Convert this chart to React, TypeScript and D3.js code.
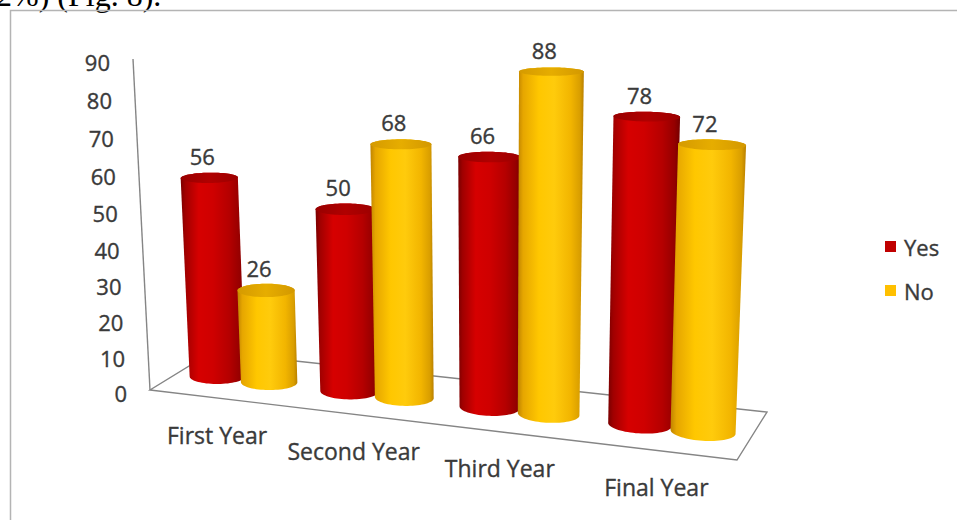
import React from 'react';
import * as d3 from 'd3';

// ---- data ----
const categories = ['First Year', 'Second Year', 'Third Year', 'Final Year'];
const seriesNames = ['Yes', 'No'];
const yesValues = [56, 50, 66, 78];
const noValues = [26, 68, 88, 72];
const yTicks = [0, 10, 20, 30, 40, 50, 60, 70, 80, 90];

const seriesValues: Record<string, number[]> = { Yes: yesValues, No: noValues };

// ---- layout / projection settings ----
const W = 957;
const H = 520;
const floorFL: [number, number] = [150, 390];
const floorFR: [number, number] = [737, 460];
const floorBR: [number, number] = [767, 412];
const floorBL: [number, number] = [212, 352];
const axisTop: [number, number] = [133, 59];
const vanishY = 7080; // vertical vanishing point (below the page)
const depth = 1.1; // floor depth, in category units
const rowDepth = 0.46; // relative depth of the column row on the floor
const FONT = "'Open Sans', 'DejaVu Sans', sans-serif";
const TEXT = '#3a3a3a';

const textStyle = {
  fontFamily: FONT,
  fill: TEXT,
  stroke: TEXT,
  strokeWidth: 0.35,
};

const palette: Record<string, any> = {
  Yes: {
    legend: '#C00000',
    body: [
      [0, '#7a0000'], [0.07, '#a00000'], [0.28, '#d60000'], [0.5, '#cf0000'],
      [0.75, '#b50000'], [0.92, '#950000'], [1, '#740000'],
    ],
    top: [[0, '#980000'], [0.5, '#b00000'], [1, '#9c0000']],
  },
  No: {
    legend: '#FFC000',
    body: [
      [0, '#c08400'], [0.08, '#e6a600'], [0.32, '#ffc700'], [0.55, '#ffcb0c'],
      [0.8, '#f2b500'], [0.94, '#d99e00'], [1, '#b98000'],
    ],
    top: [[0, '#d59a00'], [0.5, '#e6ad00'], [1, '#d39800']],
  },
};

// square -> quad homography
function homography(p0: number[], p1: number[], p2: number[], p3: number[]) {
  const dx1 = p1[0] - p2[0], dx2 = p3[0] - p2[0], dx3 = p0[0] - p1[0] + p2[0] - p3[0];
  const dy1 = p1[1] - p2[1], dy2 = p3[1] - p2[1], dy3 = p0[1] - p1[1] + p2[1] - p3[1];
  const den = dx1 * dy2 - dx2 * dy1;
  const g = (dx3 * dy2 - dx2 * dy3) / den;
  const h = (dx1 * dy3 - dx3 * dy1) / den;
  return {
    a: p1[0] - p0[0] + g * p1[0], b: p3[0] - p0[0] + h * p3[0], c: p0[0],
    d: p1[1] - p0[1] + g * p1[1], e: p3[1] - p0[1] + h * p3[1], f: p0[1],
    g, h,
  };
}

const Hm = homography(floorFL, floorFR, floorBR, floorBL);
const yScale = d3.scaleLinear().domain([0, 90]).range([0, 1]);
const lam = (axisTop[1] - Hm.f) / (vanishY - axisTop[1]);
const vanishX = (axisTop[0] * (1 + lam) - Hm.c) / lam;

const xCat = d3.scaleBand<string>().domain(categories).range([0, 4]).paddingInner(0.2).paddingOuter(0.1);
const xSeries = d3.scaleBand<string>().domain(seriesNames).range([0, xCat.bandwidth()]);

function project(X: number, value: number, Z: number): [number, number] {
  const u = X / 4;
  const v = Z / depth;
  const y = yScale(value);
  const w = Hm.g * u + Hm.h * v + 1 + y * lam;
  return [
    (Hm.a * u + Hm.b * v + Hm.c + y * lam * vanishX) / w,
    (Hm.d * u + Hm.e * v + Hm.f + y * lam * vanishY) / w,
  ];
}

function ring(cx: number, cz: number, r: number, value: number) {
  return d3.range(72).map((i) => {
    const t = (2 * Math.PI * i) / 72;
    return project(cx + r * Math.cos(t), value, cz + r * Math.sin(t));
  });
}

const line = d3.line();

export default function App() {
  const r = xSeries.bandwidth() / 2;
  const cz = depth * rowDepth;

  const bars = categories.flatMap((cat, ci) =>
    seriesNames.map((s) => {
      const value = seriesValues[s][ci];
      const cx = (xCat(cat) as number) + (xSeries(s) as number) + r;
      const base = ring(cx, cz, r, 0);
      const top = ring(cx, cz, r, value);
      const body = d3.polygonHull([...base, ...top] as [number, number][]) as [number, number][];
      const topCenter = project(cx, value, cz);
      return { key: `${ci}-${s}`, s, value, body, top, topCenter };
    })
  );

  const floor = [project(0, 0, 0), project(4, 0, 0), project(4, 0, depth), project(0, 0, depth)];
  const axis0 = project(0, 0, 0);
  const axis1 = project(0, 90, 0);

  return (
    <svg
      width={W}
      height={H}
      viewBox={`0 0 ${W} ${H}`}
      style={{ position: 'absolute', left: 0, top: 0, background: '#fff' }}
    >
      <defs>
        {seriesNames.map((s) => (
          <React.Fragment key={s}>
            <linearGradient id={`body-${s}`} x1="0" x2="1" y1="0" y2="0">
              {palette[s].body.map(([o, c]: [number, string]) => (
                <stop key={o} offset={o} stopColor={c} />
              ))}
            </linearGradient>
            <linearGradient id={`top-${s}`} x1="0" x2="1" y1="0" y2="0">
              {palette[s].top.map(([o, c]: [number, string]) => (
                <stop key={o} offset={o} stopColor={c} />
              ))}
            </linearGradient>
          </React.Fragment>
        ))}
      </defs>

      {/* running text above the figure */}
      <text x={-4} y={6} fontFamily="'Liberation Serif', 'Times New Roman', serif" fontSize={32} fill="#000">
        2%) (Fig. 8).
      </text>

      {/* figure frame */}
      <rect x={10.5} y={10.5} width={960} height={540} fill="none" stroke="#b4b4b4" strokeWidth={1.5} />

      {/* floor */}
      <path d={line(floor as [number, number][]) + 'Z'} fill="none" stroke="#858585" strokeWidth={1.4} />
      {/* value axis */}
      <line x1={axis0[0]} y1={axis0[1]} x2={axis1[0]} y2={axis1[1]} stroke="#858585" strokeWidth={1.4} />

      {yTicks.map((t) => {
        const p = project(0, t, 0);
        return (
          <text key={t} x={p[0] - 23} y={p[1] + 3} textAnchor="end" dominantBaseline="central"
            fontSize={22} {...textStyle}>
            {t}
          </text>
        );
      })}

      {categories.map((c) => {
        const p = project((xCat(c) as number) + xCat.bandwidth() / 2, 0, 0);
        return (
          <text key={c} x={p[0] + 2} y={p[1] + 37} textAnchor="middle" dominantBaseline="central"
            fontSize={23} {...textStyle}>
            {c}
          </text>
        );
      })}

      {bars.map((b) => (
        <g key={b.key}>
          <path d={line(b.body) + 'Z'} fill={`url(#body-${b.s})`} />
          <path d={line(b.top as [number, number][]) + 'Z'} fill={`url(#top-${b.s})`} />
        </g>
      ))}

      {bars.map((b) => (
        <text key={'l' + b.key} x={b.topCenter[0] - 7} y={b.topCenter[1] - 22} textAnchor="middle"
          dominantBaseline="central" fontSize={22} {...textStyle}>
          {b.value}
        </text>
      ))}

      {/* legend */}
      {seriesNames.map((s, i) => (
        <g key={s} transform={`translate(885, ${241 + i * 44})`}>
          <rect width={11} height={11} fill={palette[s].legend} />
          <text x={19} y={6} dominantBaseline="central" fontSize={22} {...textStyle}>
            {s}
          </text>
        </g>
      ))}
    </svg>
  );
}
